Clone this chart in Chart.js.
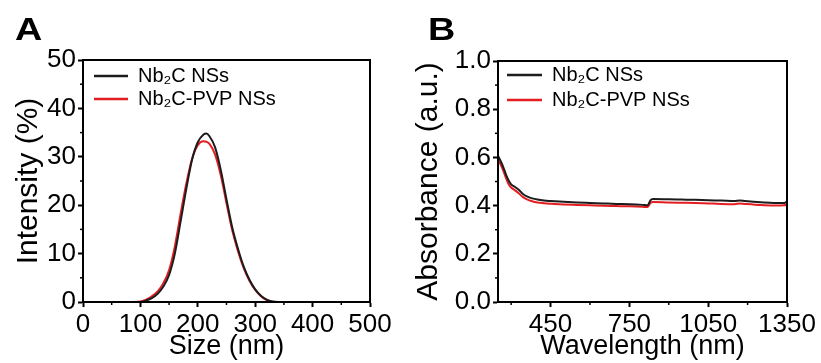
<!DOCTYPE html>
<html>
<head>
<meta charset="utf-8">
<script src="https://cdn.jsdelivr.net/npm/chart.js@4.4.1/dist/chart.umd.min.js"></script>
<style>
  body { margin: 0; background: #fff; width: 821px; height: 363px; position: relative; overflow: hidden;
         font-family: "Liberation Sans", Arial, sans-serif; }
  .panel { position: absolute; top: 0; height: 363px; }
  #panelA { left: 0; width: 410px; }
  #panelB { left: 410px; width: 411px; }
  .tag { position: absolute; top: 11px; font: bold 32px "Liberation Sans", Arial, sans-serif; color: #000;
         transform: scaleX(1.18); transform-origin: left top; }
</style>
</head>
<body>
<div class="panel" id="panelA"><canvas id="chartA" width="410" height="363"></canvas></div>
<div class="panel" id="panelB"><canvas id="chartB" width="411" height="363"></canvas></div>
<div class="tag" style="left:15px">A</div>
<div class="tag" style="left:428px">B</div>
<script>
var seriesLabels = ['Nb₂C NSs', 'Nb₂C-PVP NSs'];
var seriesColors = ['#1c1c1c', '#e41e20'];

// size distribution (DLS)
var sizeNm = [0, 50, 90, 100, 110, 120, 130, 140, 150, 160, 170, 180, 190, 200, 210, 215, 220, 230, 240, 250, 260, 270, 280, 290, 300, 310, 320, 330, 340, 400, 500];
var intensityNb2C = [0, 0, 0, 0, 0.3, 0.8, 1.7, 3.2, 5.6, 10.0, 16.6, 23.4, 29.4, 33.0, 34.6, 34.8, 34.3, 32.0, 27.3, 21.2, 15.4, 11.0, 7.3, 4.6, 2.6, 1.3, 0.5, 0.1, 0, 0, 0];
var intensityPVP = [0, 0, 0, 0.1, 0.5, 1.2, 2.2, 3.9, 6.6, 11.5, 18.2, 24.5, 29.6, 32.4, 33.2, 33.1, 32.7, 30.5, 26.2, 20.4, 14.8, 10.5, 7.0, 4.4, 2.5, 1.2, 0.4, 0.05, 0, 0, 0];
var sizeTicks = [0, 100, 200, 300, 400, 500];
var sizeMinor = [50, 150, 250, 350, 450];
var intensityTicks = [0, 10, 20, 30, 40, 50];
var intensityMinor = [5, 15, 25, 35, 45];

// UV-vis-NIR absorbance
var wavelengthNm = [250, 260, 270, 280, 290, 300, 315, 330, 345, 360, 380, 400, 425, 450, 500, 550, 600, 650, 700, 750, 800, 820, 830, 840, 900, 950, 1000, 1050, 1100, 1150, 1170, 1190, 1250, 1300, 1340, 1350];
var absNb2C = [0.607, 0.585, 0.56, 0.53, 0.505, 0.488, 0.477, 0.465, 0.448, 0.438, 0.43, 0.425, 0.421, 0.419, 0.416, 0.413, 0.411, 0.409, 0.407, 0.406, 0.403, 0.401, 0.422, 0.427, 0.426, 0.425, 0.424, 0.422, 0.421, 0.419, 0.421, 0.419, 0.414, 0.411, 0.411, 0.418];
var absPVP = [0.59, 0.57, 0.545, 0.515, 0.49, 0.475, 0.463, 0.45, 0.435, 0.426, 0.418, 0.413, 0.41, 0.408, 0.405, 0.403, 0.401, 0.399, 0.398, 0.397, 0.395, 0.394, 0.411, 0.415, 0.413, 0.412, 0.411, 0.409, 0.407, 0.406, 0.409, 0.407, 0.402, 0.4, 0.401, 0.405];
var wavelengthTicks = [450, 750, 1050, 1350];
var wavelengthMinor = [300, 600, 900, 1200];
var absTicks = [0, 0.2, 0.4, 0.6, 0.8, 1.0];
var absMinor = [0.1, 0.3, 0.5, 0.7, 0.9];

var FONT = '"Liberation Sans", Arial, sans-serif';

function points(xs, ys) {
  return xs.map(function (x, i) { return { x: x, y: ys[i] }; });
}

// box frame, short minor ticks and the in-plot legend
var extras = {
  id: 'extras',
  afterDraw: function (chart) {
    var o = chart.options.plugins.extras;
    var ctx = chart.ctx, a = chart.chartArea;
    ctx.save();
    ctx.strokeStyle = '#000';
    ctx.lineWidth = 1.5;
    o.xMinor.forEach(function (v) {
      var px = chart.scales.x.getPixelForValue(v);
      ctx.beginPath(); ctx.moveTo(px, a.bottom); ctx.lineTo(px, a.bottom + 3); ctx.stroke();
    });
    o.yMinor.forEach(function (v) {
      var py = chart.scales.y.getPixelForValue(v);
      ctx.beginPath(); ctx.moveTo(a.left, py); ctx.lineTo(a.left - 3, py); ctx.stroke();
    });
    ctx.lineWidth = 2;
    ctx.strokeRect(a.left, a.top, a.right - a.left, a.bottom - a.top);

    ctx.font = '20px ' + FONT;
    ctx.textBaseline = 'middle';
    ctx.fillStyle = '#000';
    chart.data.datasets.forEach(function (ds, i) {
      var y = a.top + o.legendY[i];
      ctx.strokeStyle = ds.borderColor;
      ctx.lineWidth = 2.5;
      ctx.beginPath(); ctx.moveTo(a.left + o.legendX[0], y); ctx.lineTo(a.left + o.legendX[1], y); ctx.stroke();
      ctx.fillText(ds.label, a.left + o.legendX[2], y);
    });
    ctx.restore();
  }
};

function axis(min, max, ticks, title, digits, fixed, titleSize, titlePad) {
  return {
    type: 'linear', min: min, max: max,
    afterBuildTicks: function (s) { s.ticks = ticks.map(function (v) { return { value: v }; }); },
    afterFit: fixed,
    ticks: { color: '#000', font: { family: FONT, size: 26 }, padding: 2,
             callback: function (v) { return digits ? v.toFixed(digits) : v; } },
    title: { display: true, text: title, color: '#000', font: { family: FONT, size: titleSize },
             padding: { top: titlePad, bottom: 0 } },
    grid: { drawOnChartArea: false, drawTicks: true, tickLength: 5, tickWidth: 2, tickColor: '#000' },
    border: { display: true, color: '#000', width: 2 }
  };
}

function makeChart(id, xs, ys, xAxis, yAxis, pad, extra) {
  return new Chart(document.getElementById(id), {
    type: 'line',
    data: {
      datasets: [
        { label: seriesLabels[0], data: points(xs, ys[0]), borderColor: seriesColors[0], borderWidth: 2, pointRadius: 0, cubicInterpolationMode: 'monotone' },
        { label: seriesLabels[1], data: points(xs, ys[1]), borderColor: seriesColors[1], borderWidth: 2, pointRadius: 0, cubicInterpolationMode: 'monotone' }
      ]
    },
    options: {
      responsive: false,
      animation: false,
      layout: { padding: pad },
      plugins: { legend: { display: false }, tooltip: { enabled: false }, extras: extra },
      scales: { x: xAxis, y: yAxis }
    },
    plugins: [extras]
  });
}

makeChart('chartA', sizeNm, [intensityNb2C, intensityPVP],
  axis(0, 500, sizeTicks, 'Size (nm)', 0, function (s) { s.height = 61; }, 27, 0),
  axis(0, 50, intensityTicks, 'Intensity (%)', 0, function (s) { s.width = 83; }, 30, 11),
  { top: 60, right: 40, left: 0, bottom: 0 },
  { xMinor: sizeMinor, yMinor: intensityMinor, legendX: [11, 45, 55], legendY: [16, 39] });

makeChart('chartB', wavelengthNm, [absNb2C, absPVP],
  axis(250, 1350, wavelengthTicks, 'Wavelength (nm)', 0, function (s) { s.height = 61; }, 27, 0),
  axis(0, 1, absTicks, 'Absorbance (a.u.)', 1, function (s) { s.width = 88; }, 30, 1),
  { top: 61, right: 34, left: 0, bottom: 0 },
  { xMinor: wavelengthMinor, yMinor: absMinor, legendX: [9, 44, 54], legendY: [14, 39] });
</script>
</body>
</html>
